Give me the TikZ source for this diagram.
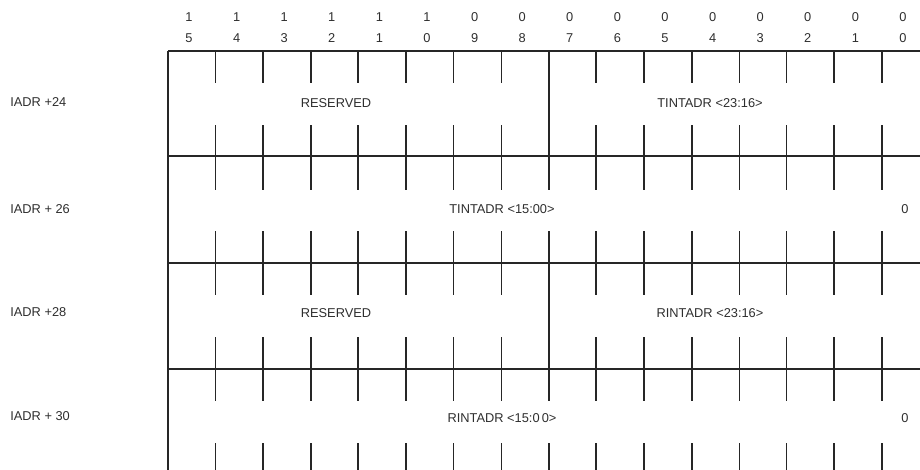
\documentclass[tikz,border=0pt]{standalone}
\usepackage{fontspec}
\setmainfont{Liberation Sans}
\usepackage{xcolor}
\usetikzlibrary{positioning}
\definecolor{inkline}{HTML}{262626}
\definecolor{inktext}{HTML}{2E2E2E}

\begin{document}
\begin{tikzpicture}[x=0.02cm, y=-0.02cm,
  lab/.style={font=\fontsize{7.3}{8}\selectfont, text=inktext, inner sep=0pt},
  rowline/.style={draw=inkline, line width=0.6pt},
  border/.style={draw=inkline, line width=1.1pt}]
\useasboundingbox (0,0) rectangle (920,470);
\clip (0,0) rectangle (920,470);
% bit numbers, two digits stacked
\foreach \i in {0,...,15} {
  \pgfmathtruncatemacro{\bit}{15-\i}
  \pgfmathtruncatemacro{\hi}{\bit/10}
  \pgfmathtruncatemacro{\lo}{mod(\bit,10)}
  \node[lab] (hi\bit) at ({168+47.6*\i+21}, 17) {\hi};
  \node[lab] (lo\bit) at ({168+47.6*\i+21}, 38) {\lo};
}
% frame and word rows
\draw[border] (168,51) -- (920,51);
\draw[border, line width=1.3pt] (168,156) -- (920,156);
\draw[rowline] (168,263) -- (920,263);
\draw[rowline] (168,369) -- (920,369);
\draw[border, line width=0.8pt] (168,51) -- (168,475);
% bit ticks
\foreach \k/\w in {1/0.55,2/1.1,3/1.0,4/1.1,5/1.1,6/0.6,7/0.55,8/1.1,9/1.1,10/1.1,11/1.1,12/0.55,13/0.55,14/1.1,15/1.1} {
  \foreach \ya/\yb in {51/83,125/190,231/295,337/401,443/475}
    \draw[draw=inkline, line width=\w pt] ({168+47.6*\k},\ya) -- ({168+47.6*\k},\yb);
}
% byte split in rows 24 and 28
\draw[draw=inkline, line width=1.1pt] (548.8,51) -- (548.8,190);
\draw[draw=inkline, line width=1.1pt] (548.8,231) -- (548.8,401);
% register offsets
\node[lab, anchor=west] (off24) at (10,102) {IADR +24};
\node[lab, anchor=west] (off26) at (10,209) {IADR + 26};
\node[lab, anchor=west] (off28) at (10,312) {IADR +28};
\node[lab, anchor=west] (off30) at (10,416) {IADR + 30};
% fields
\node[lab] (res24) at (336,103) {RESERVED};
\node[lab] (thi) at (710,103) {TINTADR <23:16>};
\node[lab] (tlo) at (502,209) {TINTADR <15:00>};
\node[lab] (tzero) at (905,209) {0};
\node[lab] (res28) at (336,313) {RESERVED};
\node[lab] (rhi) at (710,313) {RINTADR <23:16>};
\node[lab] (rlo) at (502,418) {RINTADR <15:0\kern1.2pt 0>};
\node[lab] (rzero) at (905,418) {0};
\end{tikzpicture}
\end{document}
